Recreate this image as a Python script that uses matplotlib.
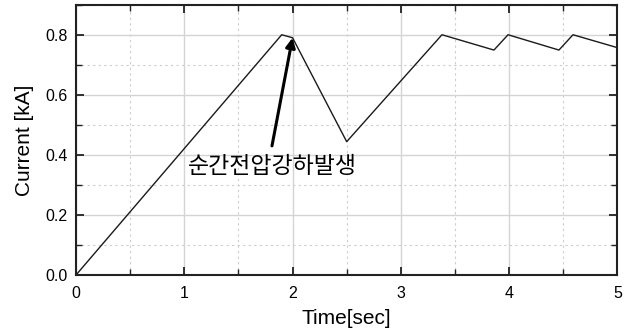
import matplotlib
matplotlib.use('Agg')
import matplotlib.pyplot as plt
from matplotlib.ticker import MultipleLocator

# values
time_sec = [0.0, 1.9, 2.0, 2.5, 3.38, 3.86, 3.99, 4.46, 4.59, 5.0]
current_ka = [0.0, 0.8, 0.79, 0.444, 0.8, 0.749, 0.8, 0.749, 0.8, 0.757]
note_text = '순간전압강하발생'
note_point = (2.0, 0.79)
note_tail = (1.81, 0.43)
note_pos = (1.81, 0.36)

plt.rcParams['font.family'] = ['Liberation Sans', 'DejaVu Sans']

fig = plt.figure(figsize=(6.3, 3.29), dpi=100)
ax = fig.add_axes([0.1206, 0.164, 0.8594, 0.8217])

ax.plot(time_sec, current_ka, color='#1a1a1a', lw=1.0)

ax.set_xlim(0, 5)
ax.set_ylim(0, 0.9)
ax.xaxis.set_major_locator(MultipleLocator(1))
ax.xaxis.set_minor_locator(MultipleLocator(0.5))
ax.yaxis.set_major_locator(MultipleLocator(0.2))
ax.yaxis.set_minor_locator(MultipleLocator(0.1))
ax.yaxis.set_major_formatter(matplotlib.ticker.FormatStrFormatter('%.1f'))

ax.grid(which='major', color='#d4d4d4', lw=1.0, ls='-')
ax.grid(which='minor', color='#cccccc', lw=0.8, ls=(0, (2, 3)))
ax.set_axisbelow(True)

ax.tick_params(which='both', direction='in', top=True, right=True, labelsize=11.5,
               color='#222222')
ax.tick_params(which='major', length=6, width=1.3, pad=6)
ax.tick_params(axis='x', which='major', pad=8)
ax.tick_params(which='minor', length=4, width=1.0)
for s in ax.spines.values():
    s.set_linewidth(1.5)
    s.set_color('#222222')

ax.set_xlabel('Time[sec]', fontsize=15, labelpad=6)
ax.set_ylabel('Current [kA]', fontsize=15, labelpad=8)

ax.annotate('', xy=note_point, xytext=note_tail,
            arrowprops=dict(arrowstyle='-|>', color='black', lw=2.2,
                            mutation_scale=14, shrinkA=0, shrinkB=0))
ax.text(note_pos[0], note_pos[1], note_text, ha='center', va='center',
        fontsize=16.5, family=['Noto Sans CJK KR', 'DejaVu Sans'])

fig.savefig('out.png', dpi=100)
